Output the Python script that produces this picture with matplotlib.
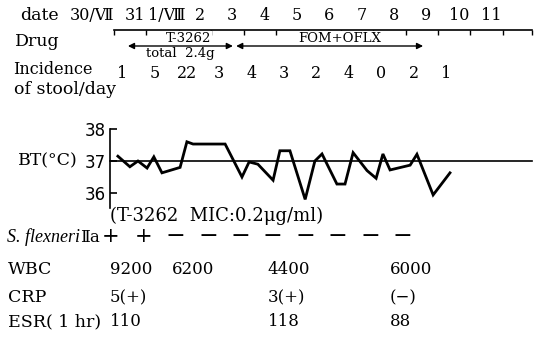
import numpy as np
import matplotlib.pyplot as plt
from matplotlib import transforms

plt.rcParams['font.family'] = ['DejaVu Serif', 'DejaVu Sans']

# days on the timeline (tick k = start of day k)
date_labels = ['30/Ⅶ', '31', '1/Ⅷ', '2', '3', '4', '5', '6', '7', '8', '9', '10', '11']
stool_per_day = [1, 5, 22, 3, 4, 3, 2, 4, 0, 2, 1]
shigella = ['+', '+', '−', '−', '−', '−', '−', '−', '−', '−']

# body temperature readings (time in days, °C)
bt_time = [0.12, 0.49, 0.74, 1.02, 1.23, 1.48, 2.04, 2.25, 2.44, 3.43,
           3.95, 4.17, 4.44, 4.91, 5.12, 5.43, 5.90, 6.20, 6.42, 6.88,
           7.13, 7.38, 7.81, 8.09, 8.30, 8.52, 9.14, 9.35, 9.85, 10.37]
bt_temp = [37.15, 36.82, 37.0, 36.78, 37.13, 36.63, 36.8, 37.6, 37.53, 37.53,
           36.5, 36.97, 36.9, 36.4, 37.32, 37.32, 35.8, 37.0, 37.22, 36.28,
           36.28, 37.26, 36.7, 36.46, 37.22, 36.72, 36.87, 37.21, 35.94, 36.63]

# drug periods (days)
t3262_period = (0.43, 3.67)
fom_period = (3.77, 9.54)

# laboratory results: (day, text)
wbc = [(-0.12, '9200'), (1.79, '6200'), (4.75, '4400'), (8.52, '6000')]
crp = [(-0.12, '5(+)'), (4.75, '3(+)'), (8.52, '(−)')]
esr = [(-0.12, '110'), (4.75, '118'), (8.52, '88')]

W, H = 539, 341
x0, scale = 114, 32.4          # pixel of day 0 and pixels per day
xlim = (-x0 / scale, (W - x0) / scale)

fig = plt.figure(figsize=(W / 100, H / 100), dpi=100)
ax = fig.add_axes([0, 0, 1, 1])
ax.set_xlim(*xlim)
ax.set_ylim(H, 0)
ax.axis('off')
left = transforms.blended_transform_factory(ax.transAxes, ax.transData)

fs = 12.5
# --- date row and timeline
ax.text(20 / W, 15, 'date', transform=left, fontsize=fs, va='center')
ax.text(0.0, 15, date_labels[0], fontsize=11.5, va='center', ha='right')
for k, lab in enumerate(date_labels[1:], start=1):
    ax.text(k - 0.36, 15, lab, fontsize=11.5, va='center', ha='center')
ticks = np.arange(0, 13)
ax.plot([ticks[0], 12.9], [30, 30], color='black', lw=1.2)
ax.vlines(list(ticks) + [12.9], 30, 35, color='black', lw=1.0)

# --- drugs
ax.text(15 / W, 42, 'Drug', transform=left, fontsize=fs, va='center')
for (a, b), name, xc in [(t3262_period, 'T-3262', 2.3), (fom_period, 'FOM+OFLX', 6.98)]:
    ax.annotate('', xy=(a, 46), xytext=(b, 46),
                arrowprops=dict(arrowstyle='<|-|>', color='black', lw=1.0,
                                mutation_scale=9, shrinkA=0, shrinkB=0))
    ax.text(xc, 38, name, fontsize=9.5, ha='center', va='center',
            bbox=dict(facecolor='white', edgecolor='none', pad=0.5))
ax.text(2.05, 54, 'total  2.4g', fontsize=9.5, ha='center', va='center')

# --- stool frequency
ax.text(13 / W, 70, 'Incidence', transform=left, fontsize=11.5, va='center')
ax.text(14 / W, 89, 'of stool/day', transform=left, fontsize=fs, va='center')
for k, n in enumerate(stool_per_day):
    ax.text(k + 0.25, 73, str(n), fontsize=11.5, ha='center', va='center')

# --- body temperature
top_px, bot_px = 125, 208
bt = fig.add_axes([0, 1 - bot_px / H, 1, (bot_px - top_px) / H])
bt.set_xlim(*xlim)
y38, y36 = 129, 193
per_deg = (y36 - y38) / 2
bt.set_ylim(36 - (bot_px - y36) / per_deg, 38 + (y38 - top_px) / per_deg)
bt.patch.set_visible(False)
for s in ['top', 'right', 'bottom']:
    bt.spines[s].set_visible(False)
bt.spines['left'].set_position(('data', -0.12))
bt.spines['left'].set_linewidth(1.2)
bt.spines['left'].set_bounds(bt.get_ylim()[0], 38)
bt.set_xticks([])
bt.set_yticks([36, 37, 38])
bt.tick_params(axis='y', direction='in', length=5, width=1.2, pad=3)
for lab in bt.get_yticklabels():
    lab.set_family('DejaVu Sans')
    lab.set_fontsize(12)
bt.plot([-0.12, 12.9], [37, 37], color='black', lw=1.2)
bt.plot(bt_time, bt_temp, color='black', lw=2.0, solid_joinstyle='miter')
ax.text(18 / W, 161, 'BT(°C)', transform=left, fontsize=12.5, va='center')

ax.text(-0.12, 216, '(T-3262  MIC:0.2μg/ml)', fontsize=13, va='center')

# --- culture and laboratory data
ax.text(7 / W, 237, 'S. flexneri', transform=left, fontsize=13, va='center',
        style='italic', family='Liberation Serif')
ax.text(80 / W, 237, 'Ⅱa', transform=left, fontsize=12, va='center')
sign_size = {'+': 15, '−': 17}
for k, s in enumerate(shigella):
    ax.text(k - 0.1, 237, s, fontsize=sign_size[s], ha='center', va='center')

rows = [('WBC', 270, wbc), ('CRP', 298, crp), ('ESR( 1 hr)', 322, esr)]
for name, y, vals in rows:
    ax.text(8 / W, y, name, transform=left, fontsize=fs, va='center')
    for d, txt in vals:
        ax.text(d, y, txt, fontsize=12, va='center', ha='left')

fig.savefig('out.png', dpi=100)
